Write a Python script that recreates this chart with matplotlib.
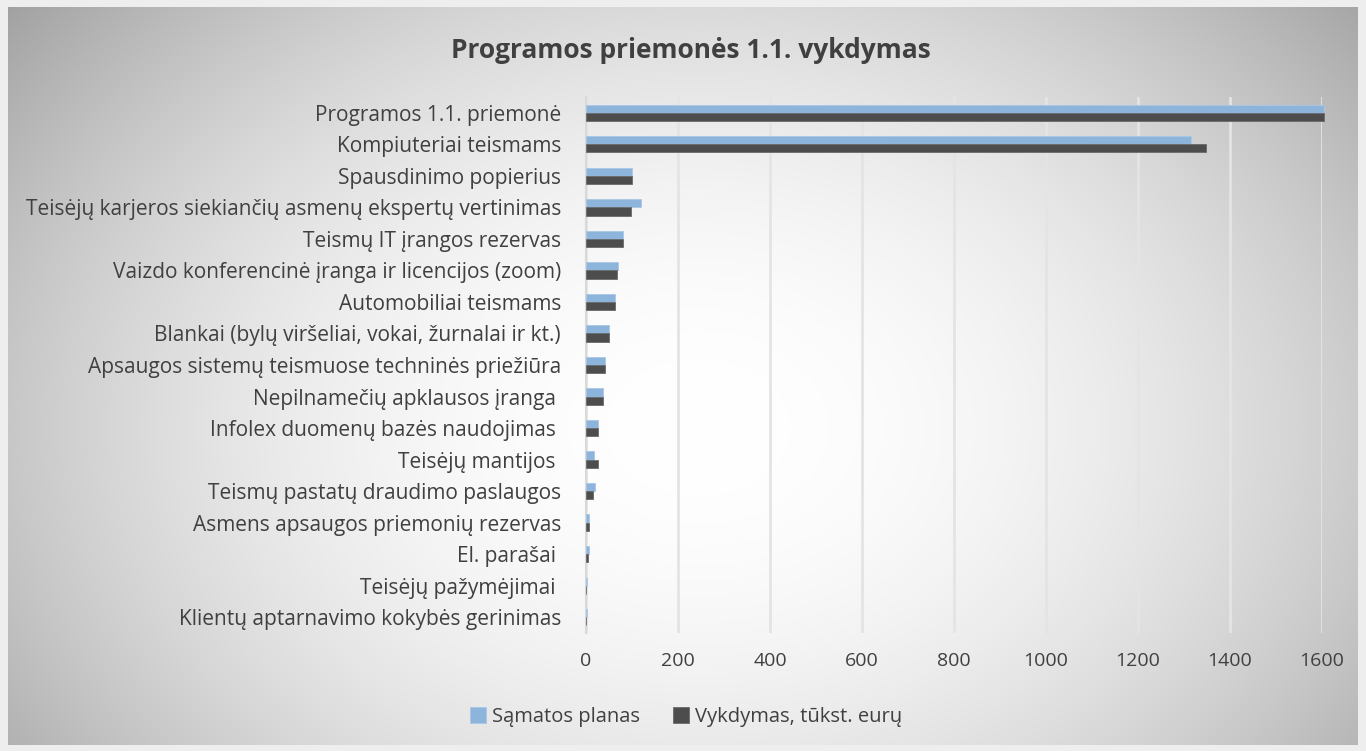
import numpy as np
import matplotlib.pyplot as plt

categories = [
    "Programos 1.1. priemonė",
    "Kompiuteriai teismams",
    "Spausdinimo popierius",
    "Teisėjų karjeros siekiančių asmenų ekspertų vertinimas",
    "Teismų IT įrangos rezervas",
    "Vaizdo konferencinė įranga ir licencijos (zoom)",
    "Automobiliai teismams",
    "Blankai (bylų viršeliai, vokai, žurnalai ir kt.)",
    "Apsaugos sistemų teismuose techninės priežiūra",
    "Nepilnamečių apklausos įranga ",
    "Infolex duomenų bazės naudojimas ",
    "Teisėjų mantijos ",
    "Teismų pastatų draudimo paslaugos",
    "Asmens apsaugos priemonių rezervas",
    "El. parašai ",
    "Teisėjų pažymėjimai ",
    "Klientų aptarnavimo kokybės gerinimas",
]
plan = [1605, 1315, 101, 119, 80, 69, 64, 50, 41, 38, 26, 18, 20, 7, 6, 2, 1.5]
actual = [1605, 1348, 101, 98, 81, 67, 63, 49, 41, 38, 26, 25, 16, 7, 4, 1, 0.3]
xticks = [0, 200, 400, 600, 800, 1000, 1200, 1400, 1600]

W, H = 1366, 751
fig = plt.figure(figsize=(W / 100, H / 100), dpi=100)
fig.patch.set_facecolor("#eeeeee")
plt.rcParams['font.family'] = ['Open Sans', 'DejaVu Sans']

# radial gradient background of the chart area
bg = fig.add_axes([8 / W, 1 - 745 / H, 1350 / W, 738 / H])
yy, xx = np.mgrid[0:738, 0:1350]
d2 = ((xx - 690) / 750.0) ** 2 + ((yy - 420) / 560.0) ** 2
shade = np.clip(1 - 0.26 * d2, 0.62, 1)
bg.imshow(np.dstack([shade] * 3), aspect="auto", extent=[0, 1, 0, 1],
          vmin=0, vmax=1, interpolation="bilinear")
bg.set_axis_off()

# plot area: 0 at x=586, 1600 at x=1322; rows from y=97 to y=633
ax = fig.add_axes([586 / W, 1 - 633 / H, 736 / W, 536 / H])
ax.patch.set_alpha(0)
y = np.arange(len(categories))
h = 0.26
ax.barh(y - h / 2, plan, height=h, color="#8db4da", edgecolor="#a9c7e6",
        linewidth=0.6, label="Sąmatos planas", zorder=3, clip_on=False)
ax.barh(y + h / 2, actual, height=h, color="#4d4d4d", edgecolor="#6a6a6a",
        linewidth=0.6, label="Vykdymas, tūkst. eurų", zorder=3, clip_on=False)
ax.set_ylim(len(categories) - 0.5, -0.5)
ax.set_xlim(0, 1600)
ax.set_xticks(xticks)
ax.set_xticklabels([str(t) for t in xticks], fontsize=14, color="#404040")
ax.set_yticks(y)
ax.set_yticklabels(categories, fontsize=15, color="#404040")
ax.tick_params(axis="both", length=0)
ax.tick_params(axis="x", pad=14)
ax.tick_params(axis="y", pad=18)
ax.grid(axis="x", color="#e4e4e4", linewidth=2, zorder=0)
for s in ["top", "right", "bottom"]:
    ax.spines[s].set_visible(False)
ax.spines["left"].set_color("#d9d9d9")
ax.spines["left"].set_linewidth(1.5)

fig.text(691 / W, 1 - 51 / H, "Programos priemonės 1.1. vykdymas",
         ha="center", va="center", fontsize=19, fontweight="bold", color="#404040")

handles, labels = ax.get_legend_handles_labels()
fig.legend(handles, labels, loc="center", bbox_to_anchor=(686 / W, 1 - 717 / H),
           ncol=2, frameon=False, fontsize=14.5, handlelength=0.8, handleheight=0.8,
           columnspacing=1.6, handletextpad=0.3, labelcolor="#404040")

fig.savefig("out.png", dpi=100)
